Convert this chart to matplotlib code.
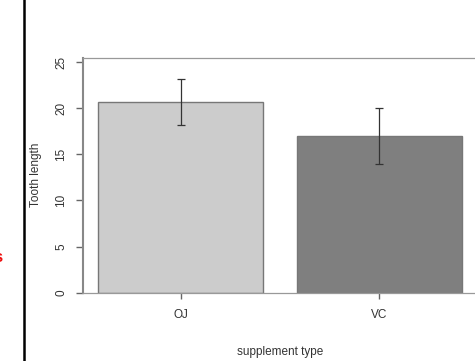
import matplotlib
matplotlib.use("Agg")
import matplotlib.pyplot as plt
from matplotlib.lines import Line2D

supplement = ["OJ", "VC"]
mean_len = [20.66, 16.96]
err_len = [2.45, 3.05]
bar_colors = ["#cccccc", "#7f7f7f"]
yticks = [0, 5, 10, 15, 20, 25]

plt.rcParams['font.family'] = ['Liberation Sans', 'DejaVu Sans']

fig = plt.figure(figsize=(4.75, 3.61), dpi=100)
W, H = 475, 361
ax = fig.add_axes([83 / W, (H - 292.7) / H, 394 / W, 234.4 / H])

centers = [0.7, 1.9]
ax.bar(centers, mean_len, width=1.0, color=bar_colors, edgecolor="#777777",
       linewidth=1.0, zorder=2)
ax.errorbar(centers, mean_len, yerr=err_len, fmt="none", ecolor="#333333",
            elinewidth=0.9, capsize=2.9, capthick=0.9, zorder=3)

ax.set_xlim(0.112, 2.488)
ax.set_ylim(0, 25.4)
ax.set_xticks(centers)
ax.set_xticklabels(supplement)
ax.set_yticks(yticks)
ax.set_yticklabels([str(v) for v in yticks], rotation=90, va="center")

txtc = "#333333"
fs = 8.5
ax.tick_params(axis="y", direction="out", length=5, width=1.0, color="#666666",
               labelsize=fs, labelcolor=txtc, pad=6.5)
ax.tick_params(axis="x", direction="out", length=4.5, width=1.0, color="#666666",
               labelsize=fs, labelcolor=txtc, pad=7.5)

for s in ["top", "bottom"]:
    ax.spines[s].set_color("#999999")
    ax.spines[s].set_linewidth(0.9)
ax.spines["left"].set_color("#888888")
ax.spines["left"].set_linewidth(1.5)
ax.spines["right"].set_visible(False)

fig.text(280 / W, 1 - 352 / H, "supplement type", ha="center", va="center",
         fontsize=fs, color=txtc)
fig.text(36 / W, 1 - 175 / H, "Tooth length", ha="center", va="center",
         rotation=90, fontsize=fs, color=txtc)

fig.add_artist(Line2D([23.5 / W, 23.5 / W], [0, 1], color="black", linewidth=1.8,
                      transform=fig.transFigure))
fig.text(3 / W, 1 - 257 / H, "s", ha="right", va="center", fontsize=12,
         fontweight="bold", color="#ee1111")

fig.savefig("out.png", dpi=100)
